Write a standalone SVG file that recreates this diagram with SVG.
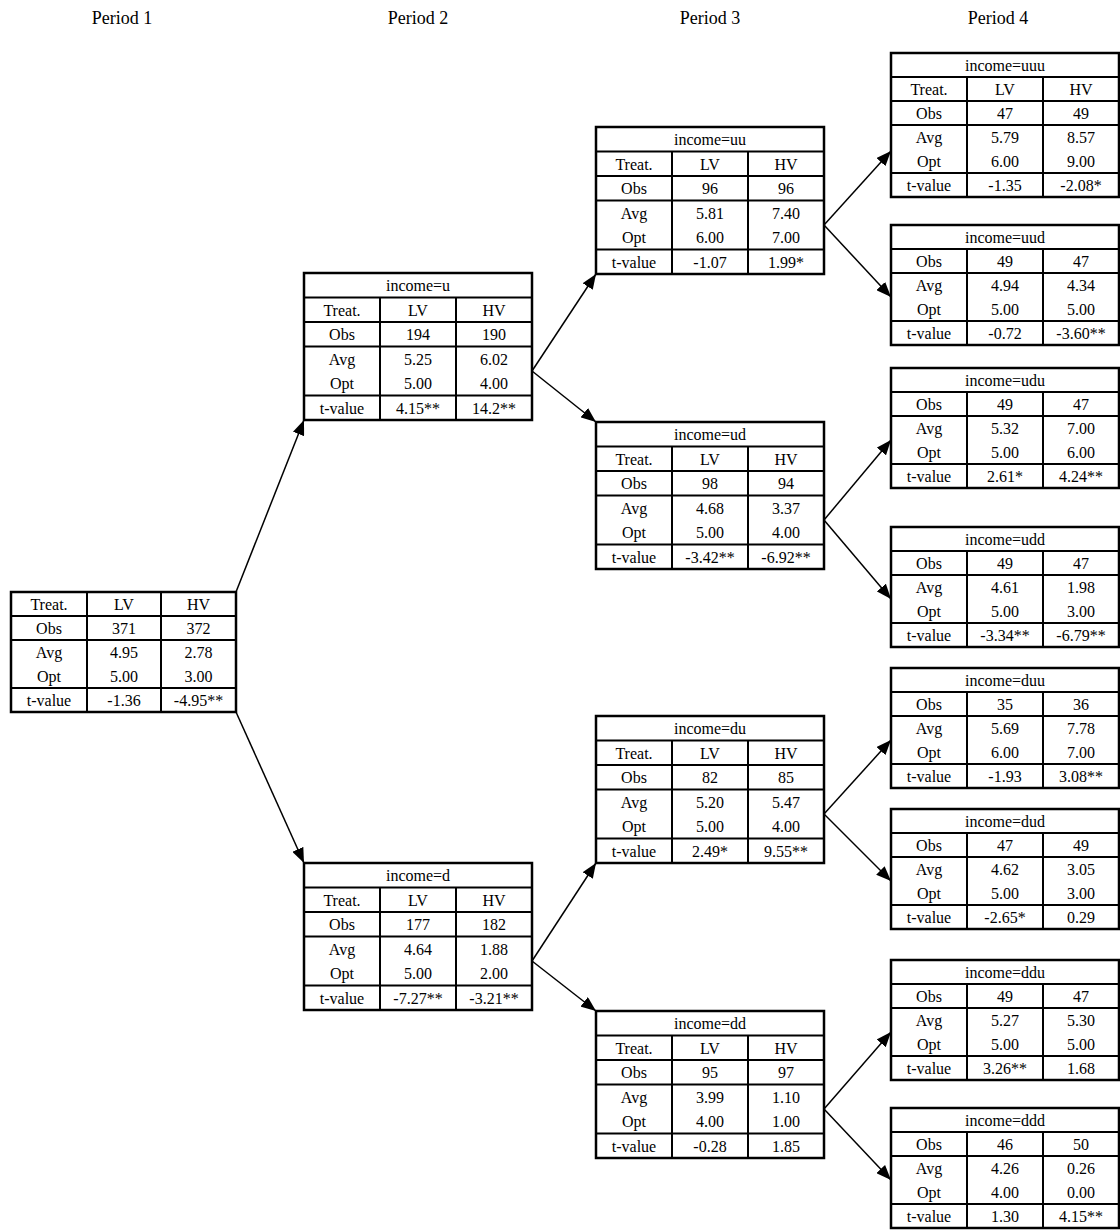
<svg xmlns="http://www.w3.org/2000/svg" xmlns:xlink="http://www.w3.org/1999/xlink" width="1120" height="1232" viewBox="0 0 1120 1232">
<style>
text{font-family:"Liberation Serif","Times New Roman",serif;font-size:16px;fill:#000;text-anchor:middle}
.per{font-size:18px}
.box{fill:#fff;stroke:#000;stroke-width:2.5}
.ln{stroke:#000;stroke-width:2;fill:none}
.conn line{stroke:#000;stroke-width:1.5;marker-end:url(#ah)}
</style>
<defs>
<marker id="ah" markerWidth="15" markerHeight="12" refX="15" refY="6" orient="auto" markerUnits="userSpaceOnUse"><path d="M0,0 L15,6 L0,12 z" fill="#000"/></marker>
<g id="g6"><rect class="box" x="0" y="0" width="228" height="147"/><path class="ln" d="M0,24.5H228M0,49H228M0,73.5H228M0,122.5H228M76,24.5V147M152,24.5V147"/></g>
<g id="g6s"><rect class="box" x="0" y="0" width="228" height="144"/><path class="ln" d="M0,24H228M0,48H228M0,72H228M0,120H228M76,24V144M152,24V144"/></g>
<g id="g5"><rect class="box" x="0" y="0" width="228" height="120"/><path class="ln" d="M0,24H228M0,48H228M0,96H228M76,24V120M152,24V120"/></g>
<g id="groot"><rect class="box" x="0" y="0" width="225" height="120"/><path class="ln" d="M0,24H225M0,48H225M0,96H225M76,0V120M150,0V120"/></g>
</defs>
<rect width="1120" height="1232" fill="#fff"/>
<g id="periods">
<text class="per" x="122" y="24">Period 1</text>
<text class="per" x="418" y="24">Period 2</text>
<text class="per" x="710" y="24">Period 3</text>
<text class="per" x="998" y="24">Period 4</text>
</g>
<g class="conn" id="connectors">
<line x1="236" y1="592" x2="304" y2="420"/>
<line x1="236" y1="712" x2="304" y2="863"/>
<line x1="532" y1="371" x2="596" y2="274"/>
<line x1="532" y1="371" x2="596" y2="422"/>
<line x1="532" y1="961" x2="596" y2="863"/>
<line x1="532" y1="961" x2="596" y2="1011"/>
<line x1="824" y1="225" x2="891" y2="151"/>
<line x1="824" y1="225" x2="891" y2="297"/>
<line x1="824" y1="520" x2="891" y2="440"/>
<line x1="824" y1="520" x2="891" y2="599"/>
<line x1="824" y1="814" x2="891" y2="740"/>
<line x1="824" y1="814" x2="891" y2="881"/>
<line x1="824" y1="1109" x2="891" y2="1032"/>
<line x1="824" y1="1109" x2="891" y2="1180"/>
</g>
<g id="root" transform="translate(11,592)"><use xlink:href="#groot"/>
<text x="38" y="17.5">Treat.</text><text x="113" y="17.5">LV</text><text x="187.5" y="17.5">HV</text>
<text x="38" y="41.5">Obs</text><text x="113" y="41.5">371</text><text x="187.5" y="41.5">372</text>
<text x="38" y="65.5">Avg</text><text x="113" y="65.5">4.95</text><text x="187.5" y="65.5">2.78</text>
<text x="38" y="89.5">Opt</text><text x="113" y="89.5">5.00</text><text x="187.5" y="89.5">3.00</text>
<text x="38" y="113.5">t-value</text><text x="113" y="113.5">-1.36</text><text x="187.5" y="113.5">-4.95**</text>
</g>
<g id="node-u" transform="translate(304,273)"><use xlink:href="#g6"/>
<text x="114" y="18">income=u</text>
<text x="38" y="42.5">Treat.</text><text x="114" y="42.5">LV</text><text x="190" y="42.5">HV</text>
<text x="38" y="67">Obs</text><text x="114" y="67">194</text><text x="190" y="67">190</text>
<text x="38" y="91.5">Avg</text><text x="114" y="91.5">5.25</text><text x="190" y="91.5">6.02</text>
<text x="38" y="116">Opt</text><text x="114" y="116">5.00</text><text x="190" y="116">4.00</text>
<text x="38" y="140.5">t-value</text><text x="114" y="140.5">4.15**</text><text x="190" y="140.5">14.2**</text>
</g>
<g id="node-d" transform="translate(304,863)"><use xlink:href="#g6"/>
<text x="114" y="18">income=d</text>
<text x="38" y="42.5">Treat.</text><text x="114" y="42.5">LV</text><text x="190" y="42.5">HV</text>
<text x="38" y="67">Obs</text><text x="114" y="67">177</text><text x="190" y="67">182</text>
<text x="38" y="91.5">Avg</text><text x="114" y="91.5">4.64</text><text x="190" y="91.5">1.88</text>
<text x="38" y="116">Opt</text><text x="114" y="116">5.00</text><text x="190" y="116">2.00</text>
<text x="38" y="140.5">t-value</text><text x="114" y="140.5">-7.27**</text><text x="190" y="140.5">-3.21**</text>
</g>
<g id="node-uu" transform="translate(596,127)"><use xlink:href="#g6"/>
<text x="114" y="18">income=uu</text>
<text x="38" y="42.5">Treat.</text><text x="114" y="42.5">LV</text><text x="190" y="42.5">HV</text>
<text x="38" y="67">Obs</text><text x="114" y="67">96</text><text x="190" y="67">96</text>
<text x="38" y="91.5">Avg</text><text x="114" y="91.5">5.81</text><text x="190" y="91.5">7.40</text>
<text x="38" y="116">Opt</text><text x="114" y="116">6.00</text><text x="190" y="116">7.00</text>
<text x="38" y="140.5">t-value</text><text x="114" y="140.5">-1.07</text><text x="190" y="140.5">1.99*</text>
</g>
<g id="node-ud" transform="translate(596,422)"><use xlink:href="#g6"/>
<text x="114" y="18">income=ud</text>
<text x="38" y="42.5">Treat.</text><text x="114" y="42.5">LV</text><text x="190" y="42.5">HV</text>
<text x="38" y="67">Obs</text><text x="114" y="67">98</text><text x="190" y="67">94</text>
<text x="38" y="91.5">Avg</text><text x="114" y="91.5">4.68</text><text x="190" y="91.5">3.37</text>
<text x="38" y="116">Opt</text><text x="114" y="116">5.00</text><text x="190" y="116">4.00</text>
<text x="38" y="140.5">t-value</text><text x="114" y="140.5">-3.42**</text><text x="190" y="140.5">-6.92**</text>
</g>
<g id="node-du" transform="translate(596,716)"><use xlink:href="#g6"/>
<text x="114" y="18">income=du</text>
<text x="38" y="42.5">Treat.</text><text x="114" y="42.5">LV</text><text x="190" y="42.5">HV</text>
<text x="38" y="67">Obs</text><text x="114" y="67">82</text><text x="190" y="67">85</text>
<text x="38" y="91.5">Avg</text><text x="114" y="91.5">5.20</text><text x="190" y="91.5">5.47</text>
<text x="38" y="116">Opt</text><text x="114" y="116">5.00</text><text x="190" y="116">4.00</text>
<text x="38" y="140.5">t-value</text><text x="114" y="140.5">2.49*</text><text x="190" y="140.5">9.55**</text>
</g>
<g id="node-dd" transform="translate(596,1011)"><use xlink:href="#g6"/>
<text x="114" y="18">income=dd</text>
<text x="38" y="42.5">Treat.</text><text x="114" y="42.5">LV</text><text x="190" y="42.5">HV</text>
<text x="38" y="67">Obs</text><text x="114" y="67">95</text><text x="190" y="67">97</text>
<text x="38" y="91.5">Avg</text><text x="114" y="91.5">3.99</text><text x="190" y="91.5">1.10</text>
<text x="38" y="116">Opt</text><text x="114" y="116">4.00</text><text x="190" y="116">1.00</text>
<text x="38" y="140.5">t-value</text><text x="114" y="140.5">-0.28</text><text x="190" y="140.5">1.85</text>
</g>
<g id="node-uuu" transform="translate(891,53)"><use xlink:href="#g6s"/>
<text x="114" y="17.5">income=uuu</text>
<text x="38" y="41.5">Treat.</text><text x="114" y="41.5">LV</text><text x="190" y="41.5">HV</text>
<text x="38" y="65.5">Obs</text><text x="114" y="65.5">47</text><text x="190" y="65.5">49</text>
<text x="38" y="89.5">Avg</text><text x="114" y="89.5">5.79</text><text x="190" y="89.5">8.57</text>
<text x="38" y="113.5">Opt</text><text x="114" y="113.5">6.00</text><text x="190" y="113.5">9.00</text>
<text x="38" y="137.5">t-value</text><text x="114" y="137.5">-1.35</text><text x="190" y="137.5">-2.08*</text>
</g>
<g id="node-uud" transform="translate(891,225)"><use xlink:href="#g5"/>
<text x="114" y="17.5">income=uud</text>
<text x="38" y="41.5">Obs</text><text x="114" y="41.5">49</text><text x="190" y="41.5">47</text>
<text x="38" y="65.5">Avg</text><text x="114" y="65.5">4.94</text><text x="190" y="65.5">4.34</text>
<text x="38" y="89.5">Opt</text><text x="114" y="89.5">5.00</text><text x="190" y="89.5">5.00</text>
<text x="38" y="113.5">t-value</text><text x="114" y="113.5">-0.72</text><text x="190" y="113.5">-3.60**</text>
</g>
<g id="node-udu" transform="translate(891,368)"><use xlink:href="#g5"/>
<text x="114" y="17.5">income=udu</text>
<text x="38" y="41.5">Obs</text><text x="114" y="41.5">49</text><text x="190" y="41.5">47</text>
<text x="38" y="65.5">Avg</text><text x="114" y="65.5">5.32</text><text x="190" y="65.5">7.00</text>
<text x="38" y="89.5">Opt</text><text x="114" y="89.5">5.00</text><text x="190" y="89.5">6.00</text>
<text x="38" y="113.5">t-value</text><text x="114" y="113.5">2.61*</text><text x="190" y="113.5">4.24**</text>
</g>
<g id="node-udd" transform="translate(891,527)"><use xlink:href="#g5"/>
<text x="114" y="17.5">income=udd</text>
<text x="38" y="41.5">Obs</text><text x="114" y="41.5">49</text><text x="190" y="41.5">47</text>
<text x="38" y="65.5">Avg</text><text x="114" y="65.5">4.61</text><text x="190" y="65.5">1.98</text>
<text x="38" y="89.5">Opt</text><text x="114" y="89.5">5.00</text><text x="190" y="89.5">3.00</text>
<text x="38" y="113.5">t-value</text><text x="114" y="113.5">-3.34**</text><text x="190" y="113.5">-6.79**</text>
</g>
<g id="node-duu" transform="translate(891,668)"><use xlink:href="#g5"/>
<text x="114" y="17.5">income=duu</text>
<text x="38" y="41.5">Obs</text><text x="114" y="41.5">35</text><text x="190" y="41.5">36</text>
<text x="38" y="65.5">Avg</text><text x="114" y="65.5">5.69</text><text x="190" y="65.5">7.78</text>
<text x="38" y="89.5">Opt</text><text x="114" y="89.5">6.00</text><text x="190" y="89.5">7.00</text>
<text x="38" y="113.5">t-value</text><text x="114" y="113.5">-1.93</text><text x="190" y="113.5">3.08**</text>
</g>
<g id="node-dud" transform="translate(891,809)"><use xlink:href="#g5"/>
<text x="114" y="17.5">income=dud</text>
<text x="38" y="41.5">Obs</text><text x="114" y="41.5">47</text><text x="190" y="41.5">49</text>
<text x="38" y="65.5">Avg</text><text x="114" y="65.5">4.62</text><text x="190" y="65.5">3.05</text>
<text x="38" y="89.5">Opt</text><text x="114" y="89.5">5.00</text><text x="190" y="89.5">3.00</text>
<text x="38" y="113.5">t-value</text><text x="114" y="113.5">-2.65*</text><text x="190" y="113.5">0.29</text>
</g>
<g id="node-ddu" transform="translate(891,960)"><use xlink:href="#g5"/>
<text x="114" y="17.5">income=ddu</text>
<text x="38" y="41.5">Obs</text><text x="114" y="41.5">49</text><text x="190" y="41.5">47</text>
<text x="38" y="65.5">Avg</text><text x="114" y="65.5">5.27</text><text x="190" y="65.5">5.30</text>
<text x="38" y="89.5">Opt</text><text x="114" y="89.5">5.00</text><text x="190" y="89.5">5.00</text>
<text x="38" y="113.5">t-value</text><text x="114" y="113.5">3.26**</text><text x="190" y="113.5">1.68</text>
</g>
<g id="node-ddd" transform="translate(891,1108)"><use xlink:href="#g5"/>
<text x="114" y="17.5">income=ddd</text>
<text x="38" y="41.5">Obs</text><text x="114" y="41.5">46</text><text x="190" y="41.5">50</text>
<text x="38" y="65.5">Avg</text><text x="114" y="65.5">4.26</text><text x="190" y="65.5">0.26</text>
<text x="38" y="89.5">Opt</text><text x="114" y="89.5">4.00</text><text x="190" y="89.5">0.00</text>
<text x="38" y="113.5">t-value</text><text x="114" y="113.5">1.30</text><text x="190" y="113.5">4.15**</text>
</g>
</svg>
